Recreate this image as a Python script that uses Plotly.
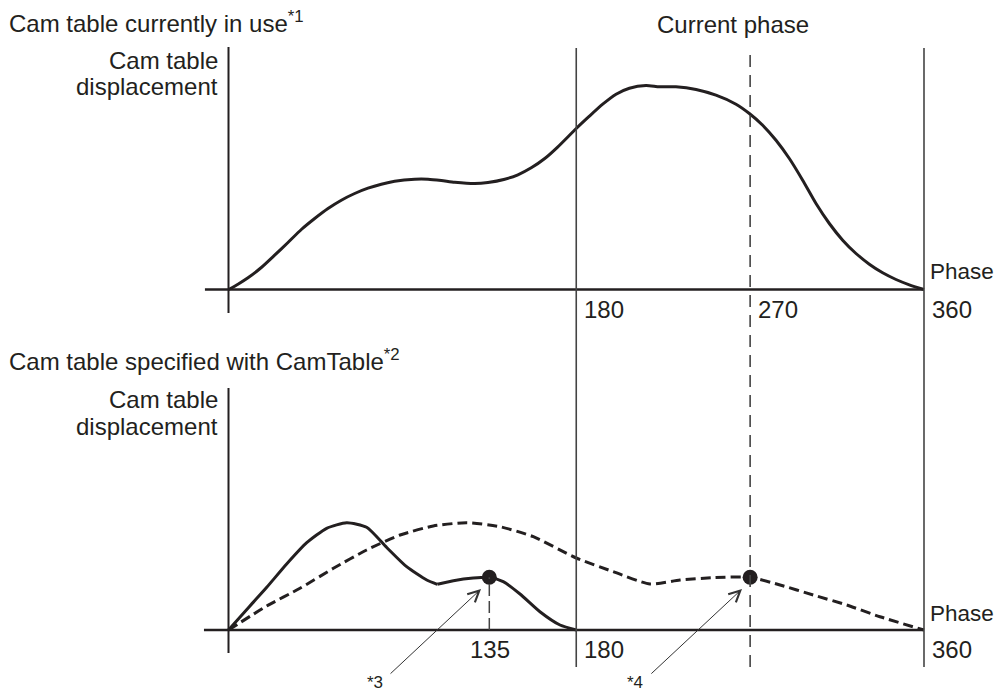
import plotly.graph_objects as go

# ---------------- data ----------------
phase_top = [0, 4.9, 10.1, 17.0, 23.9, 30.8, 37.7, 44.6, 51.5, 58.4, 65.3, 72.2, 79.1, 86.0,
             96.4, 103.3, 110.2, 117.1, 127.4, 134.3, 143, 149.8, 156.7, 163.7, 170.5, 180,
             186.8, 193.7, 200.6, 207.5, 216.1, 223, 231.6, 242, 252.3, 262.7, 269.6, 276.5,
             283.4, 290.3, 297.2, 304.1, 311, 317.9, 324.8, 331.7, 338.6, 345.5, 352.4, 360]
disp_top = [0, 5.3, 11.7, 22, 34.3, 47, 60, 71, 81, 89.3, 96, 101.3, 105.3, 108.3,
            110.3, 110.3, 109, 107.3, 106, 107, 110.3, 114.7, 121.7, 131, 142.7, 161,
            173.3, 185.3, 195.3, 201.3, 204, 202.7, 202.7, 200, 194.3, 185.3, 176, 164.3,
            149.3, 131, 109.3, 86, 66, 49.3, 36, 25.3, 16.7, 10, 4.7, 0]

phase_solid_a = [0, 11.1, 19.8, 30.1, 40.5, 50.8, 61.2, 71.5, 81.9, 92.2, 102.6, 108.1]
disp_solid_a = [0, 24, 42.7, 66, 87.3, 101.7, 107.3, 102.7, 82.5, 63.3, 50, 45.7]
phase_solid_b = [108.1, 116.4, 126.7, 134.8, 142.2, 150.9, 161.2, 171.6, 180]
disp_solid_b = [45.7, 49.3, 52, 52.7, 48.3, 36, 18.3, 5, 0]

phase_dash = [0, 19.8, 37, 54.3, 71.5, 88.8, 106, 123.3, 140.5, 157.8, 180, 199.2, 218.2,
              233.7, 250.9, 269.9, 285.5, 302.7, 320, 337.2, 360]
disp_dash = [0, 24, 41.7, 61.7, 80, 95, 104, 107.3, 103.3, 93.3, 72, 58.3, 46,
             50, 52.3, 52.7, 45, 35, 25, 13.3, 0]

marker_phase = [135, 270]
marker_disp = [52.7, 52.7]

top_ticks = ["180", "270", "360"]
top_tick_vals = [180, 270, 360]
bottom_ticks = ["135", "180", "360"]
bottom_tick_vals = [135, 180, 360]
vline_phases = [180, 270, 360]

# ---------------- layout helpers ----------------
OFF = 8                      # page body margin
W, H = 1002 - OFF, 693 - OFF
X0_PX, X360_PX = 228.5 - OFF, 924.0 - OFF
PPD = (X360_PX - X0_PX) / 360.0
XR = [-X0_PX / PPD, (W - X0_PX) / PPD]

INK = "#231f20"
GREY = "#444444"
FONT = "Liberation Sans, Arial, Helvetica, sans-serif"
FS = 24


def py(p):
    return 1 - (p - OFF) / H


def px(p):
    return (p - OFF) / W


fig = go.Figure()
spl = dict(shape="spline", smoothing=0.6)

fig.add_trace(go.Scatter(x=phase_top, y=disp_top, mode="lines", xaxis="x", yaxis="y",
                         line=dict(color=INK, width=3, **spl),
                         showlegend=False, hoverinfo="skip"))
fig.add_trace(go.Scatter(x=phase_dash, y=disp_dash, mode="lines", xaxis="x2", yaxis="y2",
                         line=dict(color=INK, width=3, dash="10px,5px", **spl),
                         showlegend=False, hoverinfo="skip"))
fig.add_trace(go.Scatter(x=phase_solid_a, y=disp_solid_a, mode="lines", xaxis="x2", yaxis="y2",
                         line=dict(color=INK, width=3, **spl),
                         showlegend=False, hoverinfo="skip"))
fig.add_trace(go.Scatter(x=phase_solid_b, y=disp_solid_b, mode="lines", xaxis="x2", yaxis="y2",
                         line=dict(color=INK, width=3, **spl),
                         showlegend=False, hoverinfo="skip"))
fig.add_trace(go.Scatter(x=marker_phase, y=marker_disp, mode="markers", xaxis="x2", yaxis="y2",
                         marker=dict(color=INK, size=15, line=dict(width=0)),
                         showlegend=False, hoverinfo="skip"))

shapes = []
shapes.append(dict(type="line", xref="x", yref="y", x0=0, x1=0, y0=-23.5, y1=242.5,
                   line=dict(color=INK, width=2)))
shapes.append(dict(type="line", xref="x", yref="y", x0=-12.2, x1=360, y0=0, y1=0,
                   line=dict(color=INK, width=2.5)))
shapes.append(dict(type="line", xref="x2", yref="y2", x0=0, x1=0, y0=-23, y1=242,
                   line=dict(color=INK, width=2)))
shapes.append(dict(type="line", xref="x2", yref="y2", x0=-12.7, x1=360, y0=0, y1=0,
                   line=dict(color=INK, width=2.5)))
for ph in vline_phases:
    shapes.append(dict(type="line", xref="x", yref="paper", x0=ph, x1=ph,
                       y0=py(667), y1=py(48),
                       line=dict(color=GREY, width=1.6,
                                 dash="12px,8px" if ph == 270 else "solid")))
shapes.append(dict(type="line", xref="x2", yref="y2", x0=135, x1=135, y0=0, y1=marker_disp[0],
                   line=dict(color=GREY, width=1.5, dash="12px,5px")))

ann = []


def txt(text, x, y, xanchor="left", size=FS):
    ann.append(dict(text=text, x=x, y=y, xref="paper", yref="paper", xanchor=xanchor,
                    yanchor="middle", showarrow=False,
                    font=dict(family=FONT, size=size, color=INK)))


txt("Cam table currently in use<sup>*1</sup>", px(7), py(22))
txt("Current phase", px(733), py(24), xanchor="center")
txt("Cam table", px(220), py(60), xanchor="right")
txt("displacement", px(220), py(86), xanchor="right")
txt("Phase", px(928), py(272), size=22.5)
for lab, v in zip(top_ticks, top_tick_vals):
    ann.append(dict(text=lab, x=v, y=py(309), xref="x", yref="paper", xanchor="left",
                    yanchor="middle", xshift=6, showarrow=False,
                    font=dict(family=FONT, size=FS, color=INK)))

txt("Cam table specified with CamTable<sup>*2</sup>", px(7), py(360))
txt("Cam table", px(220), py(400), xanchor="right")
txt("displacement", px(220), py(426), xanchor="right")
txt("Phase", px(928), py(613), size=22.5)
for lab, v in zip(bottom_ticks, bottom_tick_vals):
    centered = v == 135
    ann.append(dict(text=lab, x=v, y=py(649), xref="x2", yref="paper",
                    xanchor="center" if centered else "left",
                    yanchor="middle", xshift=1 if centered else 6, showarrow=False,
                    font=dict(family=FONT, size=FS, color=INK)))

for hx, tx in [(130.7, 83.1), (265.8, 218.1)]:
    ann.append(dict(text="", x=hx, y=41, xref="x2", yref="y2", ax=tx, ay=-45,
                    axref="x2", ayref="y2", showarrow=True, arrowhead=5, arrowsize=2.2,
                    arrowwidth=1, arrowcolor="#333333", standoff=0, startstandoff=0))
txt("*3", px(375), py(682), xanchor="center", size=17)
txt("*4", px(635), py(682), xanchor="center", size=17)

ax_common = dict(visible=False, showgrid=False, zeroline=False, fixedrange=True)
fig.update_layout(
    width=W, height=H,
    margin=dict(l=0, r=0, t=0, b=0),
    paper_bgcolor="white", plot_bgcolor="white",
    showlegend=False,
    xaxis=dict(domain=[0, 1], range=XR, anchor="y", **ax_common),
    yaxis=dict(domain=[py(320), py(40)], range=[-30.5, 249.5], anchor="x", **ax_common),
    xaxis2=dict(domain=[0, 1], range=XR, anchor="y2", **ax_common),
    yaxis2=dict(domain=[py(680), py(370)], range=[-50, 260], anchor="x2", **ax_common),
    shapes=shapes,
    annotations=ann,
)

fig.write_html("out.html")
